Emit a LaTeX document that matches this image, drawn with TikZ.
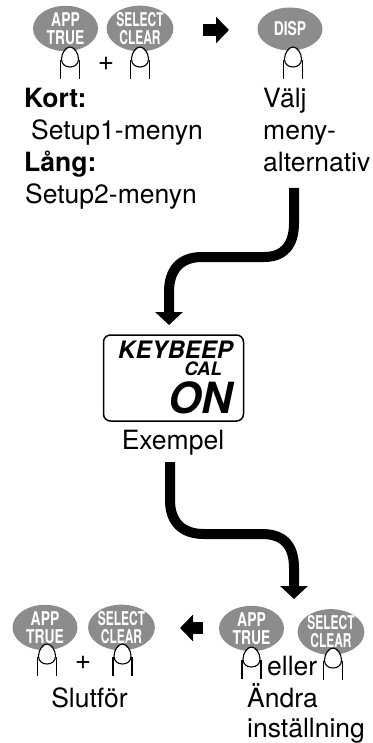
\documentclass[tikz,border=0pt]{standalone}
\usepackage{fontspec}
\setmainfont{TeX Gyre Heros}
\usetikzlibrary{arrows.meta,shapes.geometric}
\definecolor{btn}{gray}{0.55}
\tikzset{
  x=1pt,y=-1pt,
  keybtn/.style={ellipse,fill=btn,minimum width=65pt,minimum height=43pt,inner sep=0pt,text=white,align=center,
    font=\fontsize{19}{18}\bfseries\selectfont},
  lbl/.style={inner sep=0pt,anchor=base west,font=\fontsize{26.5}{28}\selectfont},
  lblc/.style={inner sep=0pt,anchor=base,font=\fontsize{26.5}{28}\selectfont},
  pluslbl/.style={inner sep=0pt,font=\fontsize{28}{28}\selectfont},
  flow/.style={line width=10pt,draw=black,-{Triangle[length=13pt,width=27pt]}},
  step arrow/.style={line width=12pt,draw=black,-{Triangle[length=13pt,width=26pt]}},
  fingerline/.style={draw=black,line width=1.1pt,fill=white},
  finger/.pic={
    \path[fingerline] (-8.5,12) .. controls (-8.5,6) and (-4,0) .. (0,0) .. controls (4,0) and (8.5,6) .. (8.5,12)
       .. controls (8.5,17) and (5,20) .. (0,20) .. controls (-5,20) and (-8.5,17) .. (-8.5,12) -- cycle;
    \draw[line width=1.1pt] (-9.5,13) -- (-9.5,32);
    \draw[line width=1.1pt] (9.5,13) -- (9.5,32);
  }
}
\newcommand{\app}{\scalebox{0.73}[1]{APP}\\\scalebox{0.73}[1]{TRUE}}
\newcommand{\sel}{\scalebox{0.63}[1]{SELECT}\\\scalebox{0.63}[1]{CLEAR}}
\begin{document}
\begin{tikzpicture}
\useasboundingbox (0,0) rectangle (372,743);
% top row
\node[keybtn] (b1) at (65.5,28.5) {\app};
\node[keybtn] (b2) at (140,28.5) {\sel};
\node[keybtn] (b3) at (290,29) {\scalebox{0.73}[1]{DISP}};
\pic at (70,47) {finger};
\pic at (140,47) {finger};
\pic at (293,47) {finger};
\node[pluslbl] (p1) at (106,64) {+};
\coordinate (a1s) at (203,30);
\coordinate (a1e) at (229,30);
\draw[step arrow] (a1s) -- (a1e);
% top texts
\node[lbl] (t1) at (24,108) {\textbf{Kort:}};
\node[lbl] (t2) at (31,140) {Setup1-menyn};
\node[lbl] (t3) at (24,172) {\textbf{Lång:}};
\node[lbl] (t4) at (25,204) {Setup2-menyn};
\node[lbl] (t5) at (263,108) {Välj};
\node[lbl] (t6) at (263,140) {meny-};
\node[lbl] (t7) at (263,172) {alternativ};
% display
\node[draw=black,line width=1.5pt,rounded corners=7pt,minimum width=140pt,minimum height=86pt,inner sep=0pt] (disp) at (173.5,378) {};
\node[inner sep=0pt,anchor=base west,text depth=0pt,font=\fontsize{24}{24}\bfseries\itshape\selectfont] (kb) at (118,358) {KEYBEEP};
\node[inner sep=0pt,anchor=base east,text depth=0pt,text height=13pt,font=\fontsize{18.5}{18.5}\bfseries\itshape\selectfont] (cal) at (222,375) {CAL};
\node[inner sep=0pt,anchor=base east,font=\fontsize{43}{43}\bfseries\itshape\selectfont] (on) at (233,413) {ON};
\node[lblc] (ex) at (173,449) {Exempel};
% flows
\coordinate (f1s) at (294,188);
\coordinate (f1e) at (169,325);
\draw[flow] (f1s) -- (294,223) .. controls (294,245) and (284,257) .. (264,257) -- (202,257) .. controls (180,257) and (169,270) .. (169,292) -- (f1e);
\coordinate (f2s) at (170,462);
\coordinate (f2e) at (294,599);
\draw[flow] (f2s) -- (170,500) .. controls (170,522) and (182,534) .. (204,534) -- (262,534) .. controls (284,534) and (294,546) .. (294,568) -- (f2e);
% lower right
\node[keybtn] (b4) at (251.5,628.5) {\app};
\node[keybtn] (b5) at (331,632) {\sel};
\pic at (251.5,647) {finger};
\pic at (333,648) {finger};
\node[lbl] (t8) at (267,675) {eller};
\node[lbl] (t9) at (247,707) {Ändra};
\node[lbl] (t10) at (247,737) {inställning};
% lower left
\coordinate (a2s) at (203,628);
\coordinate (a2e) at (180,628);
\draw[step arrow] (a2s) -- (a2e);
\node[keybtn] (b6) at (45,627.5) {\app};
\node[keybtn] (b7) at (121.5,627.5) {\sel};
\pic at (47,644) {finger};
\pic at (122.5,644) {finger};
\node[pluslbl] (p2) at (83,663) {+};
\node[lblc] (t11) at (89.5,707) {Slutför};
\end{tikzpicture}
\end{document}
